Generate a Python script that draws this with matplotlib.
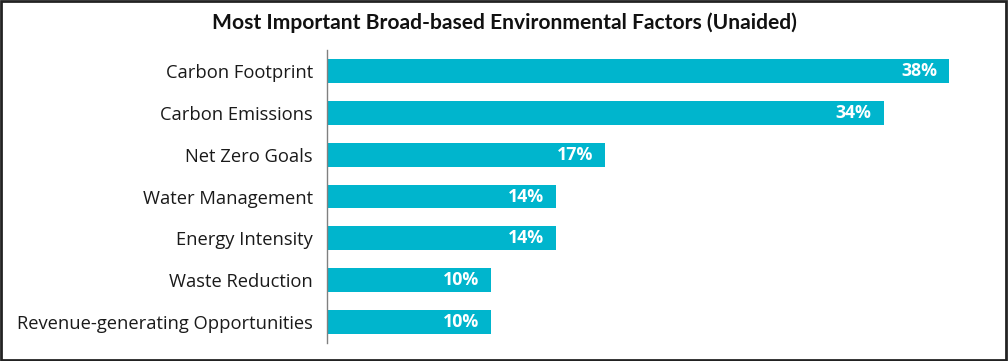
import matplotlib
matplotlib.use("Agg")
import matplotlib.pyplot as plt
from matplotlib.patches import Rectangle

categories = ["Carbon Footprint", "Carbon Emissions", "Net Zero Goals", "Water Management",
              "Energy Intensity", "Waste Reduction", "Revenue-generating Opportunities"]
values = [38, 34, 17, 14, 14, 10, 10]
value_labels = ["38%", "34%", "17%", "14%", "14%", "10%", "10%"]
title = "Most Important Broad-based Environmental Factors (Unaided)"

plt.rcParams['font.family'] = ['Open Sans', 'DejaVu Sans']

fig = plt.figure(figsize=(10.08, 3.61), dpi=100)
ax = fig.add_axes([327/1008, 1-343/361, (990-327)/1008, (343-50)/361])

bar_color = "#00B5CD"
y = list(range(len(categories)))
ax.barh(y, values, height=0.57, color=bar_color)
ax.set_ylim(len(categories)-0.5, -0.5)
ax.set_xlim(0, (990-327)/16.37)
ax.set_yticks(y)
ax.set_yticklabels(categories, fontsize=13.2, color="#1a1a1a")
ax.tick_params(axis='y', length=0, pad=10)
ax.set_xticks([])
for s in ["top", "right", "bottom"]:
    ax.spines[s].set_visible(False)
ax.spines["left"].set_color("#808080")
ax.spines["left"].set_linewidth(1.0)

for yi, v, lab in zip(y, values, value_labels):
    ax.annotate(lab, (v, yi), xytext=(-12, 0), textcoords="offset pixels",
                ha="right", va="center", color="white", fontsize=12.8, fontweight="bold")

fig.text(0.5, 1-23/361, title, ha="center", va="center", fontsize=15.1,
         fontweight="bold", color="#111111", family=['Lato', 'DejaVu Sans'])

fig.patches.append(Rectangle((0.001, 0.002), 0.997, 0.995, transform=fig.transFigure,
                             fill=False, edgecolor="#222222", linewidth=2))

fig.savefig("out.png", dpi=100)
